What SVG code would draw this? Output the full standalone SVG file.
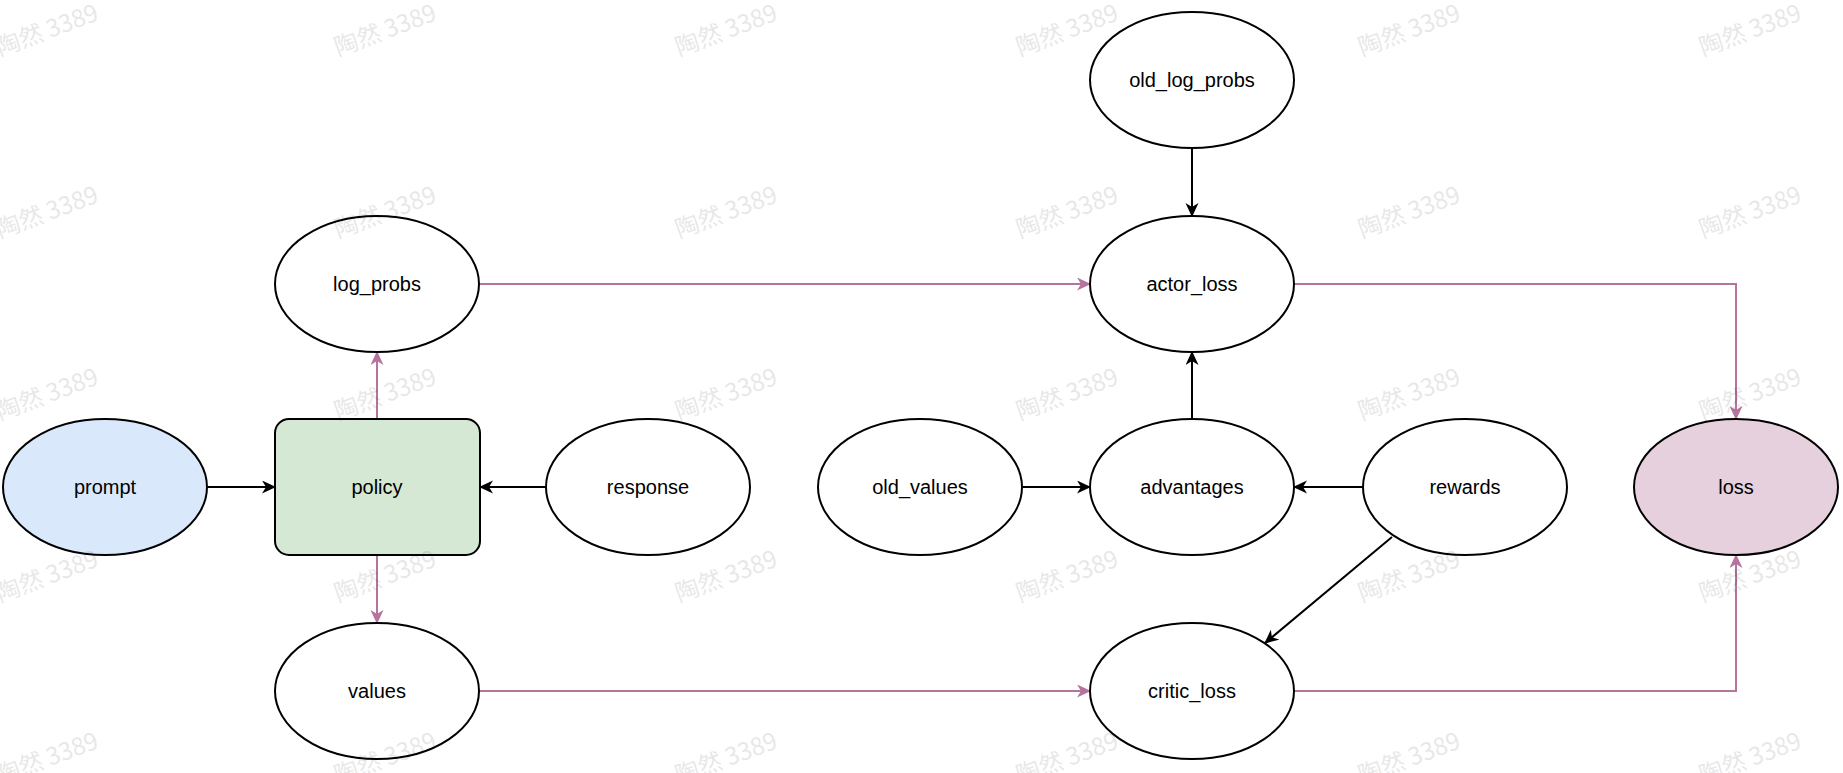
<svg xmlns="http://www.w3.org/2000/svg" width="1843" height="773" viewBox="0 0 1843 773">
<defs>
<style>
.n{stroke:#000;stroke-width:2;fill:#fff}
.t{font-family:"Liberation Sans",Arial,Helvetica,sans-serif;font-size:20px;fill:#000;text-anchor:middle;dominant-baseline:central}
.k{stroke:#000;stroke-width:2;fill:none}
.p{stroke:#b5739d;stroke-width:2;fill:none}
.w{font-family:"Noto Sans CJK SC","Liberation Sans",sans-serif;font-size:24px;fill:#000;opacity:0.09;text-anchor:middle}
</style>
<marker id="ak" markerUnits="userSpaceOnUse" markerWidth="16" markerHeight="14" refX="13" refY="6.5" orient="auto">
<path d="M0,0 L14,6.5 L0,13 L4,6.5 z" fill="#000"/>
</marker>
<marker id="ap" markerUnits="userSpaceOnUse" markerWidth="16" markerHeight="14" refX="13" refY="6.5" orient="auto">
<path d="M0,0 L14,6.5 L0,13 L4,6.5 z" fill="#b5739d"/>
</marker>
</defs>
<rect width="1843" height="773" fill="#fff"/>
<g id="connectors">
<line class="k" x1="207" y1="487" x2="275" y2="487" marker-end="url(#ak)"/>
<line class="k" x1="546" y1="487" x2="480" y2="487" marker-end="url(#ak)"/>
<line class="p" x1="377" y1="419" x2="377" y2="352" marker-end="url(#ap)"/>
<line class="p" x1="377" y1="555" x2="377" y2="623" marker-end="url(#ap)"/>
<line class="p" x1="479" y1="284" x2="1090" y2="284" marker-end="url(#ap)"/>
<line class="p" x1="479" y1="691" x2="1090" y2="691" marker-end="url(#ap)"/>
<line class="k" x1="1192" y1="148" x2="1192" y2="216" marker-end="url(#ak)"/>
<line class="k" x1="1192" y1="419" x2="1192" y2="352" marker-end="url(#ak)"/>
<line class="k" x1="1022" y1="487" x2="1090" y2="487" marker-end="url(#ak)"/>
<line class="k" x1="1363" y1="487" x2="1294" y2="487" marker-end="url(#ak)"/>
<line class="k" x1="1392" y1="537" x2="1265" y2="643" marker-end="url(#ak)"/>
<polyline class="p" points="1294,284 1736,284 1736,419" marker-end="url(#ap)"/>
<polyline class="p" points="1294,691 1736,691 1736,555" marker-end="url(#ap)"/>
</g>
<g id="prompt"><ellipse cx="105" cy="487" rx="102" ry="68" class="n" fill="#dae8fc" style="fill:#dae8fc"/><text class="t" x="105" y="487">prompt</text></g>
<g id="policy"><rect x="275" y="419" width="205" height="136" rx="14" class="n" style="fill:#d5e8d4"/><text class="t" x="377" y="487">policy</text></g>
<g id="response"><ellipse cx="648" cy="487" rx="102" ry="68" class="n"/><text class="t" x="648" y="487">response</text></g>
<g id="log_probs"><ellipse cx="377" cy="284" rx="102" ry="68" class="n"/><text class="t" x="377" y="284">log_probs</text></g>
<g id="values"><ellipse cx="377" cy="691" rx="102" ry="68" class="n"/><text class="t" x="377" y="691">values</text></g>
<g id="old_log_probs"><ellipse cx="1192" cy="80" rx="102" ry="68" class="n"/><text class="t" x="1192" y="80">old_log_probs</text></g>
<g id="actor_loss"><ellipse cx="1192" cy="284" rx="102" ry="68" class="n"/><text class="t" x="1192" y="284">actor_loss</text></g>
<g id="old_values"><ellipse cx="920" cy="487" rx="102" ry="68" class="n"/><text class="t" x="920" y="487">old_values</text></g>
<g id="advantages"><ellipse cx="1192" cy="487" rx="102" ry="68" class="n"/><text class="t" x="1192" y="487">advantages</text></g>
<g id="rewards"><ellipse cx="1465" cy="487" rx="102" ry="68" class="n"/><text class="t" x="1465" y="487">rewards</text></g>
<g id="critic_loss"><ellipse cx="1192" cy="691" rx="102" ry="68" class="n"/><text class="t" x="1192" y="691">critic_loss</text></g>
<g id="loss"><ellipse cx="1736" cy="487" rx="102" ry="68" class="n" style="fill:#e6d0de"/><text class="t" x="1736" y="487">loss</text></g>
<g id="watermark">
<text class="w" transform="translate(50,38) rotate(-20)">陶然 3389</text>
<text class="w" transform="translate(388,38) rotate(-20)">陶然 3389</text>
<text class="w" transform="translate(729,38) rotate(-20)">陶然 3389</text>
<text class="w" transform="translate(1070,38) rotate(-20)">陶然 3389</text>
<text class="w" transform="translate(1412,38) rotate(-20)">陶然 3389</text>
<text class="w" transform="translate(1753,38) rotate(-20)">陶然 3389</text>
<text class="w" transform="translate(50,220) rotate(-20)">陶然 3389</text>
<text class="w" transform="translate(388,220) rotate(-20)">陶然 3389</text>
<text class="w" transform="translate(729,220) rotate(-20)">陶然 3389</text>
<text class="w" transform="translate(1070,220) rotate(-20)">陶然 3389</text>
<text class="w" transform="translate(1412,220) rotate(-20)">陶然 3389</text>
<text class="w" transform="translate(1753,220) rotate(-20)">陶然 3389</text>
<text class="w" transform="translate(50,402) rotate(-20)">陶然 3389</text>
<text class="w" transform="translate(388,402) rotate(-20)">陶然 3389</text>
<text class="w" transform="translate(729,402) rotate(-20)">陶然 3389</text>
<text class="w" transform="translate(1070,402) rotate(-20)">陶然 3389</text>
<text class="w" transform="translate(1412,402) rotate(-20)">陶然 3389</text>
<text class="w" transform="translate(1753,402) rotate(-20)">陶然 3389</text>
<text class="w" transform="translate(50,584) rotate(-20)">陶然 3389</text>
<text class="w" transform="translate(388,584) rotate(-20)">陶然 3389</text>
<text class="w" transform="translate(729,584) rotate(-20)">陶然 3389</text>
<text class="w" transform="translate(1070,584) rotate(-20)">陶然 3389</text>
<text class="w" transform="translate(1412,584) rotate(-20)">陶然 3389</text>
<text class="w" transform="translate(1753,584) rotate(-20)">陶然 3389</text>
<text class="w" transform="translate(50,766) rotate(-20)">陶然 3389</text>
<text class="w" transform="translate(388,766) rotate(-20)">陶然 3389</text>
<text class="w" transform="translate(729,766) rotate(-20)">陶然 3389</text>
<text class="w" transform="translate(1070,766) rotate(-20)">陶然 3389</text>
<text class="w" transform="translate(1412,766) rotate(-20)">陶然 3389</text>
<text class="w" transform="translate(1753,766) rotate(-20)">陶然 3389</text>
</g>
</svg>
